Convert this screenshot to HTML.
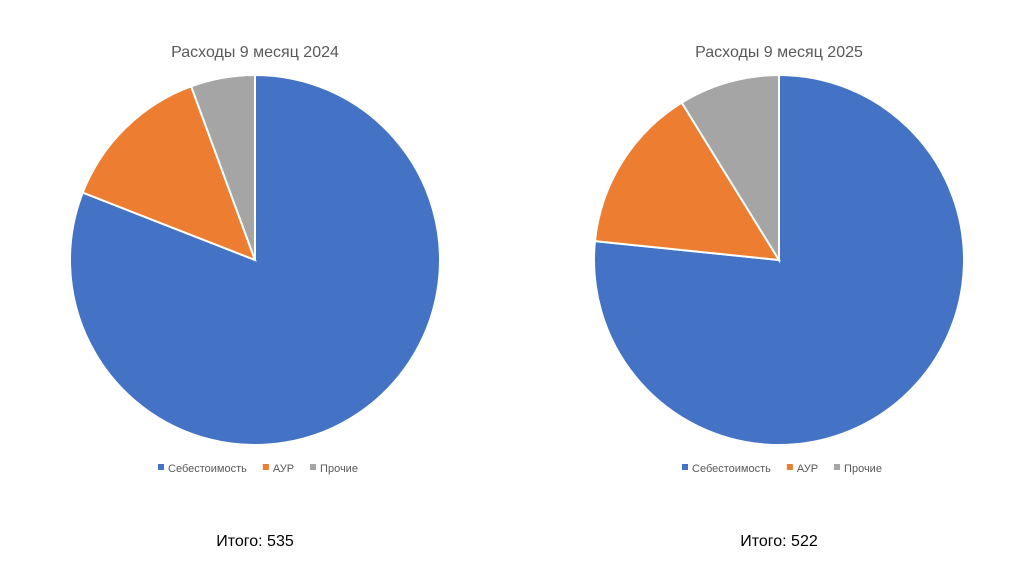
<!DOCTYPE html>
<html><head><meta charset="utf-8"><style>
body{margin:0;background:#fff;width:1024px;height:574px;overflow:hidden;font-family:"Liberation Sans",sans-serif}
</style></head><body>
<svg id="c" width="1024" height="574"></svg>
<script>
const categories=["Себестоимость","АУР","Прочие"];
const colors=["#4472C4","#ED7D31","#A5A5A5"];
const values2024=[433,72,30];
const values2025=[400,76,46];
const titles=["Расходы 9 месяц 2024","Расходы 9 месяц 2025"];
const totals=["Итого: 535","Итого: 522"];
const svg=document.getElementById('c');
const NS='http://www.w3.org/2000/svg';
function mk(t,a){const e=document.createElementNS(NS,t);for(const k in a)e.setAttribute(k,a[k]);svg.appendChild(e);return e;}
function pie(vals,cx,cy,r,idx){
  const sum=vals.reduce((a,b)=>a+b,0);let a0=0;
  vals.forEach((v,i)=>{
    const a1=a0+v/sum*2*Math.PI;
    const x0=cx+r*Math.sin(a0),y0=cy-r*Math.cos(a0),x1=cx+r*Math.sin(a1),y1=cy-r*Math.cos(a1);
    const p=mk('path',{d:`M${cx},${cy}L${x0},${y0}A${r},${r} 0 ${a1-a0>Math.PI?1:0} 1 ${x1},${y1}Z`,fill:colors[i],stroke:'#fff','stroke-width':2});
    
    
    a0=a1;
  });
  const t=mk('text',{x:cx,y:57,'text-anchor':'middle','font-size':16,fill:'#595959'});t.textContent=titles[idx];
  
  let lx=cx-97;
  categories.forEach((c,i)=>{
    const s=mk('rect',{x:lx,y:464,width:6,height:6,fill:colors[i]});
    
    const tx=mk('text',{x:lx+10,y:472,'font-size':11,fill:'#595959'});tx.textContent=c;
    
    lx+=10+tx.getComputedTextLength()+16;
  });
  const tt=mk('text',{x:cx,y:546,'text-anchor':'middle','font-size':16,fill:'#000'});tt.textContent=totals[idx];
  
}
pie(values2024,255,260,185,0);
pie(values2025,779,260,185,1);
</script>
</body></html>
